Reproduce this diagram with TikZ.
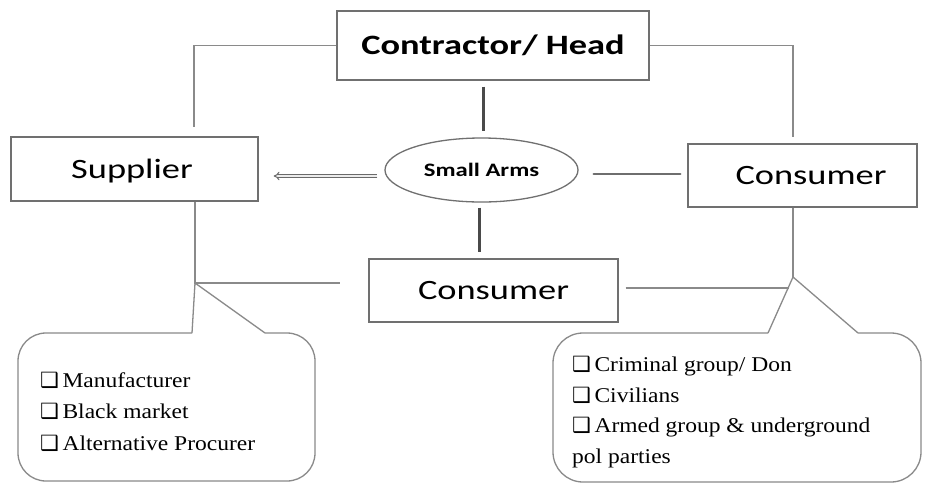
\documentclass[tikz,border=0pt]{standalone}
\usepackage{fontspec}
\setmainfont{Liberation Serif}[FakeStretch=1.12]
\newfontfamily\boxfont{Carlito}[FakeStretch=1.3]
\newfontfamily\symfont{DejaVu Sans}
\usetikzlibrary{arrows.meta,shapes.geometric}
\definecolor{linegray}{HTML}{8A8A8A}
\definecolor{boxgray}{HTML}{707070}
\definecolor{darkline}{HTML}{4A4A4A}
\definecolor{arrowgray}{HTML}{6A6A6A}
\newcommand{\bxitem}{{\fontsize{21}{21}\symfont ❑}\,}
\begin{document}
\begin{tikzpicture}[x=1pt,y=-1pt,
  conn/.style={draw=linegray,line width=1.3pt},
  thickconn/.style={draw=darkline,line width=3pt},
  boxnode/.style={draw=boxgray,line width=1.4pt,inner sep=0pt,
    text height=18pt,text depth=0pt,
    font=\boxfont\fontsize{28}{28}\selectfont},
  itemtext/.style={anchor=base west,align=left,inner sep=0pt}]
\useasboundingbox (0,0) rectangle (926,483);
\fill[white] (0,0) rectangle (926,483);

% nodes
\node[boxnode,minimum width=312pt,minimum height=69pt,
  font=\boxfont\bfseries\fontsize{28}{28}\selectfont] (head) at (493,45.5) {Contractor/ Head};
\node[boxnode,minimum width=247pt,minimum height=64pt] (supp) at (134.5,169) {Supplier\hspace*{5pt}};
\node[boxnode,minimum width=229pt,minimum height=63pt] (consR) at (802.5,175.5) {\hspace*{17pt}Consumer};
\node[boxnode,minimum width=249pt,minimum height=63pt] (consM) at (493.5,290.5) {Consumer};
\node[ellipse,draw=boxgray,line width=1.3pt,minimum width=193pt,minimum height=64pt,
  inner sep=0pt,text height=12.5pt,text depth=0pt,
  font=\boxfont\bfseries\fontsize{19}{19}\selectfont] (arms) at (481.5,170) {Small Arms};

% connectors from the head
\coordinate (hl) at (194,127);
\coordinate (hr) at (793,137);
\draw[conn] (head.west) -| (hl);
\draw[conn] (head.east) -| (hr);
\draw[thickconn] ([xshift=-10pt,yshift=-6pt]head.south) -- ([xshift=1.5pt,yshift=6pt]arms.north);
\draw[thickconn] ([xshift=-2.5pt,yshift=-5pt]arms.south) -- ([xshift=-14.5pt,yshift=6pt]consM.north);

% arrows from small arms
\draw[draw=arrowgray,line width=1pt,double=white!85!gray,double distance=1.8pt,-{Implies}]
  ([xshift=-7pt,yshift=-6pt]arms.west) -- ([xshift=15pt,yshift=-7pt]supp.east);
\draw[draw=darkline!80!white,line width=2.4pt,line cap=round]
  ([xshift=15pt,yshift=-4pt]arms.east) -- ([xshift=-7pt,yshift=1.5pt]consR.west);

% supplier side
\coordinate (sj) at (195,283);
\coordinate (sh) at (340,283);
\draw[conn] (sj |- supp.south) -- (sj) -- (sh);
\coordinate (sp1) at (192,333);
\coordinate (sp2) at (265,333);
\draw[conn] (sp1) -- (sj) -- (sp2);
\draw[conn,rounded corners=28pt] (sp2) -- (315,333) -- (315,481) -- (18,481) -- (18,333) -- (sp1);

% consumer side
\coordinate (cj) at (793,277);
\coordinate (ch) at (789,288);
\draw[conn] (cj |- consR.south) -- (cj);
\draw[conn] ([xshift=7pt]consM.east |- ch) -- (ch);
\coordinate (cp1) at (768,333);
\coordinate (cp2) at (858,333);
\draw[conn] (cp1) -- (cj) -- (cp2);
\draw[conn,rounded corners=30pt] (cp2) -- (921,333) -- (921,482) -- (553,482) -- (553,333) -- (cp1);

% callout texts (base anchor = last line)
\node[itemtext,font=\fontsize{21}{31.5}\selectfont] (supl) at (40,450)
  {\bxitem Manufacturer\\ \bxitem Black market\\ \bxitem Alternative Procurer};
\node[itemtext,font=\fontsize{21}{30.4}\selectfont] (consl) at (572,463)
  {\bxitem Criminal group/ Don\\ \bxitem Civilians\\ \bxitem Armed group \& underground\\ pol parties};
\end{tikzpicture}
\end{document}
